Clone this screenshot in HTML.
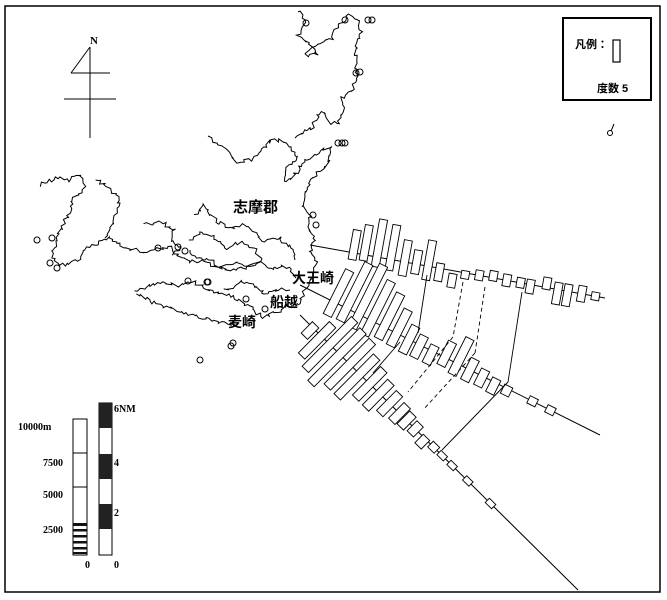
<!DOCTYPE html>
<html><head><meta charset="utf-8"><style>
html,body{margin:0;padding:0;background:#fff;}
svg{display:block;}
text{font-family:"Liberation Serif","Noto Serif CJK SC",serif;fill:#000;}
.cjk{font-family:"Liberation Sans","Noto Sans CJK JP",sans-serif;font-weight:bold;}
</style></head><body>
<svg id="s" width="667" height="600" viewBox="0 0 667 600" xmlns="http://www.w3.org/2000/svg">
<rect x="0" y="0" width="667" height="600" fill="#fff"/>
<rect x="5" y="6" width="655" height="586" fill="none" stroke="#000" stroke-width="1.5"/>
<rect x="563" y="18" width="88" height="82" fill="none" stroke="#000" stroke-width="2"/>
<text x="575" y="48" class="cjk" font-size="11">凡例：</text>
<rect x="613" y="40" width="7" height="22" fill="none" stroke="#000" stroke-width="1.2"/>
<text x="597" y="92" class="cjk" font-size="11">度数 5</text>
<circle cx="610" cy="133" r="2.5" fill="none" stroke="#000"/><line x1="611" y1="131" x2="614" y2="124" stroke="#000"/>
<text x="90" y="44" font-size="11" font-weight="bold">N</text>
<line x1="90" y1="47" x2="90" y2="138" stroke="#000"/>
<line x1="90" y1="47" x2="71" y2="73" stroke="#000"/>
<line x1="71" y1="73" x2="110" y2="73" stroke="#000"/>
<line x1="64" y1="99" x2="116" y2="99" stroke="#000"/>
<rect x="73" y="419" width="14" height="136" fill="#fff" stroke="#000"/>
<line x1="73" y1="453" x2="87" y2="453" stroke="#000"/>
<line x1="73" y1="487" x2="87" y2="487" stroke="#000"/>
<g fill="#111"><rect x="73" y="523" width="14" height="3"/><rect x="73" y="529" width="14" height="2.5"/><rect x="73" y="535" width="14" height="2.5"/><rect x="73" y="541" width="14" height="2.5"/><rect x="73" y="547" width="14" height="2.5"/><rect x="73" y="552" width="14" height="2"/></g>
<text x="18" y="430" font-size="10" font-weight="bold">10000m</text>
<text x="43" y="466" font-size="10" font-weight="bold">7500</text>
<text x="43" y="498" font-size="10" font-weight="bold">5000</text>
<text x="43" y="533" font-size="10" font-weight="bold">2500</text>
<text x="85" y="568" font-size="10" font-weight="bold">0</text>
<rect x="99" y="403" width="13" height="152" fill="#fff" stroke="#000"/>
<rect x="99" y="403" width="13" height="25" fill="#222"/>
<rect x="99" y="454" width="13" height="25" fill="#222"/>
<rect x="99" y="504" width="13" height="25" fill="#222"/>
<text x="114" y="412" font-size="10" font-weight="bold">6NM</text>
<text x="114" y="466" font-size="10" font-weight="bold">4</text>
<text x="114" y="516" font-size="10" font-weight="bold">2</text>
<text x="114" y="568" font-size="10" font-weight="bold">0</text>
<g id="coast" fill="none" stroke="#000" stroke-width="1"></g>
<g id="bars" fill="#fff" stroke="#000" stroke-width="0.9"></g>
<g stroke="#000" stroke-width="0.9" fill="none">
<line x1="427" y1="275" x2="418" y2="333"/>
<line x1="463" y1="282" x2="453" y2="337" stroke-dasharray="4,3"/>
<line x1="485" y1="287" x2="475" y2="353" stroke-dasharray="4,3"/>
<line x1="522" y1="292" x2="508" y2="382"/>
<line x1="400" y1="342" x2="373" y2="373"/>
<line x1="453" y1="337" x2="408" y2="392" stroke-dasharray="4,3"/>
<line x1="475" y1="353" x2="423" y2="410" stroke-dasharray="4,3"/>
<line x1="508" y1="382" x2="442" y2="450"/>
</g>
<text x="233" y="212" class="cjk" font-size="15">志摩郡</text>
<text x="292" y="283" class="cjk" font-size="14">大王崎</text>
<text x="270" y="307" class="cjk" font-size="14">船越</text>
<text x="228" y="327" class="cjk" font-size="14">麦崎</text>
</svg>
<script>
var NS="http://www.w3.org/2000/svg";
function el(p,t,a){var e=document.createElementNS(NS,t);for(var k in a)e.setAttribute(k,a[k]);document.getElementById(p).appendChild(e);return e;}
var seed=7;function rnd(){seed=(seed*16807)%2147483647;return seed/2147483647;}
function wig(pts,j){var d="";for(var i=0;i<pts.length-1;i++){var a=pts[i],b=pts[i+1];var n=Math.max(2,Math.round(Math.hypot(b[0]-a[0],b[1]-a[1])/2.5));for(var k=0;k<n;k++){var x=a[0]+(b[0]-a[0])*k/n+(rnd()-.5)*j,y=a[1]+(b[1]-a[1])*k/n+(rnd()-.5)*j;d+=(d?"L":"M")+x.toFixed(1)+" "+y.toFixed(1);}}var l=pts[pts.length-1];d+="L"+l[0]+" "+l[1];el("coast","path",{d:d});}
wig([[300,10],[305,22],[298,35],[310,45],[318,55],[305,55],[315,45],[332,38],[340,22],[350,16],[358,22],[362,30],[357,45],[355,62],[357,78],[350,92],[341,98],[344,112],[338,122],[330,124],[325,112],[318,115],[312,128],[300,135],[295,138]],4);
wig([[210,138],[228,150],[235,162],[250,160],[262,150],[268,142],[280,140],[292,150],[298,160],[285,168],[283,180],[290,180],[300,168],[310,158],[320,150],[332,148],[330,160],[322,170],[312,178],[305,190],[302,205],[310,215],[308,228],[315,240],[310,252],[318,262],[312,276],[305,290],[298,305]],4);
wig([[40,185],[55,178],[68,180],[80,174],[86,186],[75,196],[70,212],[62,226],[56,240],[52,256],[58,266],[70,264],[80,258],[88,248],[100,242],[110,236],[120,246],[132,250],[150,252],[162,248],[172,248],[180,258],[196,262],[210,260],[220,268],[235,262],[248,266],[260,262],[272,270],[288,266],[296,278]],4);
wig([[95,180],[110,188],[120,200],[115,215],[110,230],[105,238]],4);
wig([[145,225],[160,222],[175,230],[170,240],[180,248],[172,255]],4);
wig([[195,215],[205,205],[215,220],[230,228],[245,225],[255,232],[265,242],[280,238],[290,248],[295,260]],4);
wig([[190,240],[200,232],[215,238],[228,248],[240,242],[255,250],[262,260],[250,266],[232,270],[212,266],[198,258],[190,250]],4);
wig([[135,292],[150,285],[165,282],[180,286],[195,282],[210,290],[225,295],[240,300],[252,308],[262,318],[272,312],[282,310],[292,305]],4);
wig([[135,292],[148,300],[160,305],[175,310],[190,315],[205,318],[220,322],[235,325]],4);
wig([[225,290],[240,282],[255,286],[265,295],[275,290],[290,290]],4);
[[306,23],[345,20],[368,20],[372,20],[360,72],[356,73],[338,143],[342,143],[345,143],[313,215],[316,225],[37,240],[52,238],[50,263],[57,268],[158,248],[178,247],[185,251],[188,281],[207,282],[208,282],[246,299],[265,309],[200,360],[233,343],[231,346]].forEach(function(c){el("coast","circle",{cx:c[0],cy:c[1],r:3});});
function line(x1,y1,x2,y2,bars,w){el("bars","line",{x1:x1,y1:y1,x2:x2,y2:y2,stroke:"#000","stroke-width":1});
var L=Math.hypot(x2-x1,y2-y1),ux=(x2-x1)/L,uy=(y2-y1)/L,ang=Math.atan2(uy,ux)*180/Math.PI;
bars.forEach(function(b){var t=b[0],len=b[1],off=b[2]||0;var cx=x1+ux*t,cy=y1+uy*t;
el("bars","rect",{x:(-w/2).toFixed(1),y:(-len/2+off).toFixed(1),width:w,height:len,transform:"translate("+cx.toFixed(1)+","+cy.toFixed(1)+") rotate("+ang.toFixed(1)+")"});});}
line(310,245,605,298,[[44,30,-8],[55,36,-12],[68,48,-14],[82,46,-12],[96,36,-4],[108,24,-2],[120,40,-6],[132,18,4],[146,14,10],[158,8,2],[172,10,0],[186,10,-2],[200,12,0],[214,10,0],[224,14,2],[240,12,-4],[252,22,4],[262,22,4],[276,16,0],[290,8,0]],8);
line(300,285,600,435,[[38,50,-10],[52,64,-18],[66,70,-20],[80,60,-14],[94,50,-12],[108,40,-6],[122,30,0],[134,24,2],[148,20,4],[162,26,-4],[176,40,-8],[190,24,0],[204,18,2],[218,16,4],[232,10,2],[260,8,0],[280,8,0]],9);
line(300,315,578,590,[[18,16,4],[30,44,6],[42,70,0],[56,74,4],[70,64,0],[84,56,4],[98,40,0],[112,36,2],[126,28,0],[140,22,0],[150,18,0],[162,14,0],[176,12,4],[188,8,0],[200,6,0],[214,6,0],[236,6,0],[268,6,0]],9);
</script>
</body></html>
